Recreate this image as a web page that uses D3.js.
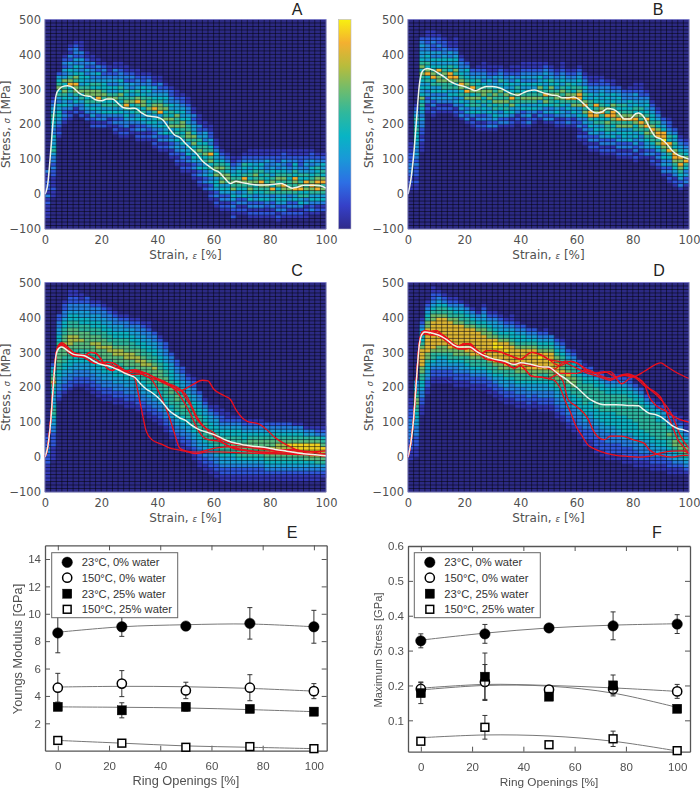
<!DOCTYPE html>
<html><head><meta charset="utf-8">
<script src="https://cdnjs.cloudflare.com/ajax/libs/d3/7.8.5/d3.min.js"></script>
<style>html,body{margin:0;padding:0;background:#fff}svg{display:block}</style>
</head><body><svg id="c" width="700" height="788"></svg>
<script>
const heatColors=["#2c2a84","#3338b4","#3058dc","#2580e0","#1a9ed8","#0cb4c4","#2cb8a0","#78bc68","#f2ae2e","#f8ee12"];
const heatColorsC=["#2c2a84","#3338b4","#3058dc","#2580e0","#1a9ed8","#0cb4c4","#2cb8a0","#58bc80","#a8bc48","#f0d020"];
const heatColorsD=["#2c2a84","#3338b4","#3058dc","#2580e0","#1a9ed8","#0cb4c4","#2cb8a0","#70bc6c","#dcb634","#f6e018"];
const barColors=["#2f2a8a","#3540c8","#2d6fe4","#1a98d8","#08b4c4","#30b89c","#70bc6c","#b8bc3c","#f4b030","#f8f010"];
// each column (2% wide): [first row, levels upward]; rows are 10 MPa tall, row 0 starts at -100
const panelA=[[3,"11112131222113"],[9,"11211122323346544533455644321"],[26,"1212345545346576542"],[30,"12323545676574342321"],[31,"1213435465876453423121"],[33,"213546778675453423321"],[32,"2133465764555343423111"],[31,"21345657765453423211"],[29,"212435465775643432311"],[29,"21324546877564352311"],[29,"2133546567655432321"],[29,"121354657645343211"],[27,"121323546576453432311"],[26,"1212323546567564533211"],[26,"121334546876564423211"],[27,"1213435657645342321"],[25,"121323546568756433211"],[25,"12132454657765453221"],[25,"12123545476564543321"],[23,"121323455468765434211"],[22,"1213243546487765432311"],[22,"12132545476576454321"],[20,"121324354767564533221"],[18,"1212343546576675443211"],[16,"12123243546567754543221"],[16,"1213254546776645433211"],[14,"121324546576754432311"],[12,"121325345676564323111"],[11,"21324354657665344211"],[8,"1213243546576865342211"],[6,"12132455476765453211"],[5,"121324547676765321"],[5,"12132454677565321"],[3,"212324547676543211"],[4,"12132435676554321"],[4,"121325456786456321"],[3,"12132546767565453211"],[3,"12132435657676543211"],[3,"12132545678656453211"],[3,"12123546676564334211"],[3,"12132436857645433211"],[2,"121324546576765342211"],[3,"12324546786765434221"],[3,"12132436766564323211"],[3,"12132546867856453211"],[3,"12135465876564322211"],[3,"11214365768564343211"],[4,"1323546787654534221"],[4,"121354687876564321"],[5,"21354676875645321"]];
const panelB=[[11,"11212333222111"],[11,"1121222323434455565464321"],[22,"111212233434565754545675765443432"],[33,"121324354658756454332211"],[32,"1213243546587654534223211"],[33,"12134354677685453423221"],[33,"1213435667676545433221"],[33,"121345466788564534211"],[32,"12134354657867545432111"],[31,"1324354657876543321"],[30,"132435476867654532"],[29,"12135466757865432"],[28,"1213254657676564321"],[28,"12132454657765343211"],[28,"1323354657676453211"],[28,"1324546576765434211"],[29,"132435676675464321"],[29,"13245657675454321"],[29,"121354768654534211"],[30,"12134566756453211"],[29,"1213254676545343211"],[29,"1324354676545343211"],[30,"121354676545343211"],[31,"13245476675453211"],[30,"132435768654534321"],[30,"13243566767564321"],[29,"12135465776454321"],[29,"1213435676764543211"],[29,"13243546876564321"],[29,"12135476875654321"],[25,"1211323544768876454321"],[24,"112132435768756453321"],[22,"1213243546885664533211"],[22,"1213245465876855433211"],[21,"12132435465687654543221"],[21,"1213245667586754543321"],[21,"1213254656788675453211"],[20,"121324354768765645432"],[20,"12132455476876564332"],[20,"121325454768765453321"],[19,"12132435465787565434211"],[20,"1213243567867564432211"],[20,"13244567687865454321"],[18,"1213245667876554321"],[17,"121324576887564321"],[15,"13243546789885432"],[13,"1213243568785643221"],[12,"12134567887564532"],[11,"1324567878654321"],[12,"13243568754321"]];
const panelC=[[3,"11111222332221"],[9,"1111222233445665444556876542"],[26,"1223344556677776655443322"],[28,"122334455667788776655433221"],[29,"12233445566778887766554332211"],[30,"1223344556677887766554332211"],[30,"122334455667787766554433211"],[29,"112233445566777776655443322"],[28,"112233445566778776655443321"],[27,"1122334455667788776655443321"],[26,"1122334455667778776655443321"],[26,"112233445566778876655443321"],[25,"112233445566778876655443321"],[25,"11223344556677887665544321"],[24,"112233445566778877665543321"],[24,"11223344556677887665544321"],[23,"112233445566778877655443321"],[22,"112233445566778876655443321"],[21,"1122334455667778766554433211"],[20,"11223344556677787665544332"],[19,"11223344556677776655443321"],[17,"11223344556667776655443322"],[15,"1122334455666776655544332"],[13,"1122334455666776655443322"],[12,"112233445566766655443322"],[11,"11223344556666655443321"],[9,"112233445566666554433221"],[7,"1122334455666665544332"],[6,"112233445666665544321"],[5,"11223345566665544321"],[4,"112233455666655443211"],[3,"112234456666655432211"],[3,"11223445666665543211"],[3,"1122344566766554321"],[3,"1122345667766554321"],[3,"112234566776554321"],[3,"112234567777654321"],[3,"112234567777654321"],[3,"112234567877654321"],[3,"11234567787765432"],[3,"11234567887765432"],[3,"11234567888765432"],[3,"11234567888765432"],[3,"11234567889765432"],[3,"11234567899765431"],[3,"11234567899765431"],[3,"1123457789976431"],[3,"1123457899976431"],[3,"1123467899976321"],[4,"123467889765321"]];
const panelD=[[9,"111222333333222111"],[10,"1112223334455667765443"],[22,"1112233455667788888765544321"],[28,"112234455677888888877654321"],[31,"1122345667888888887765432211"],[31,"112234456778888888876654321"],[31,"11223445677888888887665321"],[31,"1122345667888888887665321"],[30,"11223345677888888877654321"],[30,"1122344567788888887665431"],[30,"112234566788888887665431"],[29,"112234566788888888765431"],[29,"11223456678888888765431"],[29,"1122345667888888776544321"],[28,"112234566788888877654321"],[27,"1122345667888899876544321"],[26,"1122344567788889876544321"],[25,"1122344566788889887654321"],[25,"11223345667788888765543211"],[24,"1122334566778888876554321"],[24,"112233456678888887655432"],[23,"112233445667888888765432"],[24,"11223445677888888765432"],[23,"11223344566788898765432"],[23,"112233445667888887654321"],[23,"1122334556778898876543"],[21,"11223344566778887765432"],[20,"112233445566778776654321"],[18,"11223344455667787665432"],[17,"112233344556677766654321"],[15,"11223334455566666655432"],[13,"112223344555666666554321"],[13,"11222333445556666655432"],[11,"11222333445556666665543"],[10,"1122233344555666666554321"],[9,"112223334455556666655433"],[9,"1122233344555566666554322"],[9,"1122233445555666666554321"],[8,"11222334455555666666554321"],[8,"11222334455556666665543221"],[7,"112223344555566666655432"],[7,"11223344555666666655432"],[7,"112233445566666655432"],[6,"112233445566666655431"],[6,"11223445566666555421"],[6,"1122344556666654432"],[5,"1122344566676543321"],[5,"112344567766543221"],[5,"11234567766543211"],[5,"1234567765432111"]];

const strainA=[0,1,2,3,4,5,6,8,10,12,14,16,18,20,22,24,26,28,30,32,34,36,38,40,42,44,46,48,50,52,54,56,58,60,62,64,66,68,70,72,76,80,84,86,88,90,92,96,98,100];
const stressA=[0,30,120,220,285,300,307,310,305,290,282,280,270,267,272,272,260,247,245,246,235,225,222,220,212,190,170,162,145,130,115,95,82,70,62,45,30,37,33,30,26,27,30,24,17,20,25,25,24,17];
const strainB=[0,1,2,3,4,5,6,7,9,11,13,15,17,20,22,24,26,28,30,33,35,37,39,41,43,45,47,49,51,53,55,57,59,61,63,65,67,69,71,73,75,77,79,81,82,84,86,88,90,92,94,96,98,100];
const stressB=[0,40,110,210,310,350,358,360,355,345,335,323,315,308,302,296,303,308,308,303,295,287,283,290,296,298,293,288,284,282,276,276,278,270,255,240,232,235,245,243,232,215,215,230,232,220,190,165,158,145,125,112,106,100];
const strainC=[0,1,2,3,4,5,6,8,10,12,14,16,18,20,22,24,26,28,30,32,34,36,38,40,42,44,46,48,50,52,54,56,58,60,62,64,66,68,70,74,78,82,86,90,94,98,100];
const stressC=[0,30,100,210,295,312,315,305,295,292,290,282,272,265,262,257,250,242,235,228,210,195,185,172,155,135,122,112,105,92,82,75,70,65,58,50,44,40,36,31,28,22,17,12,8,5,4];
const strainD=[0,1,2,3,4,5,6,8,10,12,14,16,18,20,22,24,26,28,30,34,38,40,44,48,50,52,54,56,58,60,62,64,66,68,70,74,78,82,84,86,88,90,92,94,96,98,100];
const stressD=[0,40,110,220,320,352,358,356,352,345,335,322,315,315,315,305,295,288,282,275,265,270,265,258,258,248,235,225,212,200,185,170,160,153,150,150,148,147,135,125,122,115,103,90,82,78,73];

const trunkC1=[[0,0],[1,30],[2,105],[3,215],[4,300],[5,322],[6,327],[8,315],[10,300],[12,295],[14,292],[16,288],[18,280],[20,270],[22,265],[24,262],[26,252],[28,242],[30,236]];
const trunkC2=[[0,0],[1,28],[2,100],[3,210],[4,295],[5,318],[6,322],[8,308],[10,293],[12,290],[14,290],[16,300],[18,298],[20,280],[22,255],[24,248],[26,256],[28,245],[30,248],[32,250]];
const trunkC3=[[0,0],[1,30],[2,102],[3,212],[4,297],[5,318],[6,320],[8,303],[10,290],[14,285],[16,275],[18,268],[20,270],[22,272],[24,270],[28,250],[30,242],[32,245],[34,242],[36,240]];
const curvesC=[
 trunkC1.concat([[32,225],[33,190],[34,150],[35,110],[36,75],[38,50],[42,35],[44,27],[48,20],[52,12],[54,10],[58,15],[62,15],[70,12],[78,10],[88,8],[100,5]]),
 trunkC2.concat([[35,235],[38,222],[40,195],[42,160],[44,120],[46,70],[48,25],[50,18],[54,14],[60,25],[66,30],[72,28],[80,20],[90,10],[100,3]]),
 trunkC3.concat([[40,222],[44,205],[48,190],[52,205],[56,220],[58,218],[60,195],[64,175],[66,165],[68,135],[72,102],[76,95],[78,85],[82,55],[86,35],[90,20],[95,15],[100,8]]),
 trunkC1.concat([[34,238],[38,225],[42,218],[46,195],[48,175],[50,150],[52,120],[54,85],[56,60],[58,50],[62,45],[66,30],[70,22],[76,15],[84,12],[92,10],[100,5]]),
 trunkC2.concat([[36,240],[40,222],[44,210],[48,195],[50,170],[52,145],[54,110],[56,90],[60,70],[62,55],[66,40],[70,35],[78,25],[86,20],[94,15],[100,18]]),
 trunkC3.concat([[38,232],[42,218],[46,200],[50,180],[52,150],[54,115],[58,75],[62,50],[66,28],[72,18],[80,14],[88,22],[94,10],[100,2]])
];
const trunkD1=[[0,0],[1,40],[2,110],[3,225],[4,325],[5,358],[6,362],[8,360],[10,362],[12,352],[14,340],[16,325],[18,318],[20,322],[22,325],[24,310],[26,298],[28,290],[30,280],[34,272],[38,255],[40,262],[44,232],[48,228],[50,225]];
const trunkD2=[[0,0],[1,38],[2,108],[3,220],[4,318],[5,350],[6,354],[8,350],[10,350],[12,342],[14,330],[16,318],[18,310],[20,310],[22,312],[24,302],[26,295],[28,305],[30,305],[34,298],[38,285],[40,280],[44,300],[48,290],[50,280]];
const trunkD3=[[0,0],[1,40],[2,112],[3,222],[4,322],[5,355],[6,360],[8,358],[10,355],[12,350],[14,338],[16,322],[18,318],[20,325],[22,322],[24,308],[26,292],[28,280],[30,278],[34,270],[38,268],[40,268],[44,262],[48,258],[50,255]];
const curvesD=[
 trunkD1.concat([[52,220],[54,200],[56,160],[58,125],[60,85],[62,60],[64,35],[66,25],[70,12],[74,5],[78,2],[82,0],[86,3],[90,12],[94,17],[98,18],[100,10]]),
 trunkD3.concat([[55,220],[57,165],[60,145],[64,110],[66,75],[68,55],[70,50],[72,60],[76,60],[80,50],[84,40],[86,20],[90,5],[94,0],[98,5],[100,5]]),
 trunkD2.concat([[56,270],[60,255],[64,240],[68,230],[72,220],[76,235],[80,230],[84,245],[88,265],[90,270],[92,260],[96,240],[100,225]]),
 trunkD2.concat([[54,262],[58,275],[62,260],[66,240],[70,245],[74,230],[78,235],[82,225],[84,210],[86,170],[88,150],[92,130],[96,110],[100,100]]),
 trunkD3.concat([[52,252],[56,275],[60,270],[64,245],[68,240],[72,245],[76,210],[80,230],[84,205],[90,170],[92,130],[94,90],[96,50],[98,30],[100,10]]),
 trunkD1.concat([[54,240],[60,240],[64,250],[68,235],[72,225],[78,238],[82,225],[86,195],[90,165],[94,120],[97,60],[100,25]])
];
const ringOpenings=[0,25,50,75,100];
const seriesNames=["23°C, 0% water","150°C, 0% water","23°C, 25% water","150°C, 25% water"];
const modulusVals=[[8.6,9.05,9.1,9.3,9.05],[4.6,4.9,4.4,4.6,4.35],[3.2,2.95,3.2,3.05,2.85],[0.75,0.55,0.25,0.3,0.15]];
const modulusErrs=[[1.45,0.7,0.2,1.15,1.2],[1.05,0.95,0.6,0.95,0.55],[0.2,0.55,0.3,0.2,0.2],[0.05,0.05,0.05,0.05,0.05]];
const modulusFits=[[8.65,9.05,9.2,9.25,9.05],[4.65,4.7,4.67,4.55,4.35],[3.2,3.17,3.12,3.0,2.85],[0.75,0.55,0.35,0.25,0.15]];
const maxStressVals=[[0.328,0.348,0.365,0.371,0.376],[0.19,0.21,0.188,0.19,0.183],[0.178,0.225,0.168,0.2,0.133],[0.04,0.08,0.03,0.047,0.013]];
const maxStressErrs=[[0.02,0.027,0.003,0.04,0.027],[0.02,0.05,0.003,0.015,0.02],[0.03,0.068,0.005,0.03,0.01],[0.005,0.034,0.003,0.022,0.002]];
const maxStressFits=[[0.33,0.35,0.365,0.373,0.377],[0.192,0.203,0.2,0.193,0.183],[0.187,0.2,0.198,0.178,0.137],[0.05,0.058,0.055,0.04,0.012]];

const svg=d3.select("#c");
const txt="#505050";
const heatFont="'DejaVu Sans',sans-serif", plotFont="'Liberation Sans',Arial,sans-serif", titleFont="'Liberation Sans',Arial,sans-serif";
const xEdges=d3.range(0,101,2), yEdges=d3.range(-100,501,10);

function heat(o){
  const color=d3.scaleLinear().domain(d3.range(10)).range(o.palette);
  const x=d3.scaleLinear([0,100],[o.x0,o.x0+281]), y=d3.scaleLinear([-100,500],[o.y0+209.5,o.y0]);
  const g=svg.append("g");
  const m=g.append("g").style("filter","blur(0.45px)");
  m.append("rect").attr("x",x(0)).attr("y",y(500)).attr("width",x(100)-x(0)).attr("height",y(-100)-y(500)).attr("fill",o.palette[0]);
  o.cols.forEach((c,j)=>{
    c[1].split("").forEach((d,i)=>{
      const r=c[0]+i; if(r>59)return;
      m.append("rect").attr("x",x(j*2)).attr("y",y(-90+r*10)).attr("width",x(2)-x(0)+.2).attr("height",y(-100)-y(-90)+.2).attr("fill",color(+d));
    });
  });
  m.selectAll(".vl").data(xEdges).join("line").attr("x1",d=>x(d)).attr("x2",d=>x(d)).attr("y1",y(500)).attr("y2",y(-100)).attr("stroke","#000").attr("stroke-opacity",.62).attr("stroke-width",.8);
  m.selectAll(".hl").data(yEdges).join("line").attr("y1",d=>y(d)).attr("y2",d=>y(d)).attr("x1",x(0)).attr("x2",x(100)).attr("stroke","#000").attr("stroke-opacity",.62).attr("stroke-width",.8);
  const ln=d3.line().x(d=>x(d[0])).y(d=>y(d[1])).curve(d3.curveMonotoneX);
  (o.reds||[]).forEach(c=>m.append("path").attr("d",ln(c)).attr("fill","none").attr("stroke","#ec0f1c").attr("stroke-width",1.3));
  m.append("path").attr("d",ln(o.strain.map((s,i)=>[s,o.stress[i]]))).attr("fill","none").attr("stroke","#eef3e8").attr("stroke-width",1.5);
  g.append("rect").attr("x",x(0)).attr("y",y(500)).attr("width",x(100)-x(0)).attr("height",y(-100)-y(500)).attr("fill","none").attr("stroke","#8a8ae0").attr("stroke-width",.8);
  const ax=g.append("g").attr("transform",`translate(0,${y(-100)})`).call(d3.axisBottom(x).tickValues([0,20,40,60,80,100]).tickSize(0).tickPadding(7));
  const ay=g.append("g").attr("transform",`translate(${x(0)},0)`).call(d3.axisLeft(y).tickValues([-100,0,100,200,300,400,500]).tickSize(0).tickPadding(4));
  [ax,ay].forEach(a=>{a.select(".domain").remove();a.selectAll("text").attr("font-family",heatFont).attr("font-size",11.5).attr("fill",txt);});
  const xl=g.append("text").attr("x",x(50)).attr("y",y(-100)+30).attr("text-anchor","middle").attr("font-family",heatFont).attr("font-size",12).attr("fill",txt);
  xl.append("tspan").text("Strain, ");
  xl.append("tspan").text("ε").attr("font-style","italic").attr("font-size",8.5);
  xl.append("tspan").text(" [%]");
  const yl=g.append("text").attr("transform",`translate(${o.x0-35},${y(200)}) rotate(-90)`).attr("text-anchor","middle").attr("font-family",heatFont).attr("font-size",12).attr("fill",txt);
  yl.append("tspan").text("Stress, ");
  yl.append("tspan").text("σ").attr("font-style","italic").attr("font-size",8.5);
  yl.append("tspan").text(" [MPa]");
  svg.append("text").attr("x",o.tx).attr("y",o.ty).attr("text-anchor","middle").attr("font-family",titleFont).attr("font-size",16).attr("fill","#222").text(o.title);
}
heat({x0:45,y0:19.5,cols:panelA,palette:heatColors,strain:strainA,stress:stressA,title:"A",tx:297,ty:14.5});
heat({x0:408,y0:19.5,cols:panelB,palette:heatColors,strain:strainB,stress:stressB,title:"B",tx:658,ty:14.5});
heat({x0:45,y0:282.5,cols:panelC,palette:heatColorsC,strain:strainC,stress:stressC,reds:curvesC,title:"C",tx:297,ty:276});
heat({x0:408,y0:282.5,cols:panelD,palette:heatColorsD,strain:strainD,stress:stressD,reds:curvesD,title:"D",tx:659,ty:276});

// colour bar
const grad=svg.append("defs").append("linearGradient").attr("id","bar").attr("x1",0).attr("x2",0).attr("y1",1).attr("y2",0);
barColors.forEach((c,i)=>grad.append("stop").attr("offset",i/9).attr("stop-color",c));
svg.append("rect").attr("x",338.5).attr("y",19.5).attr("width",12.5).attr("height",209.5).attr("fill","url(#bar)").attr("stroke","#b8b8c8").attr("stroke-width",.6);

function scatter(o){
  const x=d3.scaleLinear([-5,105],[o.x0,o.x1]), y=d3.scaleLinear(o.dom,[o.y1,o.y0]);
  const g=svg.append("g").style("filter","blur(0.25px)");
  const tc="#555";
  const mk=(gen,tr)=>{const a=g.append("g").attr("transform",tr).call(gen);a.select(".domain").attr("stroke",tc).attr("stroke-width",1.3);a.selectAll("line").attr("stroke",tc);return a;};
  const xt=[0,20,40,60,80,100];
  const b=mk(d3.axisBottom(x).tickValues(xt).tickSize(-5).tickSizeOuter(0).tickPadding(11),`translate(0,${o.y1})`);
  mk(d3.axisTop(x).tickValues(xt).tickSize(-5).tickSizeOuter(0).tickFormat(""),`translate(0,${o.y0})`);
  const l=mk(d3.axisLeft(y).tickValues(o.ticks).tickFormat(o.fmt).tickSize(-5).tickSizeOuter(0).tickPadding(4),`translate(${o.x0},0)`);
  mk(d3.axisRight(y).tickValues(o.ticks).tickFormat("").tickSize(-5).tickSizeOuter(0),`translate(${o.x1},0)`);
  [b,l].forEach(a=>a.selectAll("text").attr("font-family",plotFont).attr("font-size",11.5).attr("fill",txt));
  g.append("text").attr("x",(o.x0+o.x1)/2).attr("y",o.y1+34).attr("text-anchor","middle").attr("font-family",plotFont).attr("font-size",o.xls).attr("fill",txt).text("Ring Openings [%]");
  g.append("text").attr("transform",`translate(${o.x0-o.ylo},${o.ylc}) rotate(-90)`).attr("text-anchor","middle").attr("font-family",plotFont).attr("font-size",o.yls).attr("fill",txt).text(o.ylabel);
  const ln=d3.line().x((d,i)=>x(ringOpenings[i])).y(d=>y(d)).curve(d3.curveCatmullRom);
  o.fits.forEach(f=>g.append("path").attr("d",ln(f)).attr("fill","none").attr("stroke","#777").attr("stroke-width",1));
  const marker=(sel,k,px,py)=>{
    const fill=k%2==0?"#000":"#fff";
    if(k<2) sel.append("circle").attr("cx",px).attr("cy",py).attr("r",k==0?5.2:4.6).attr("fill",fill).attr("stroke","#000").attr("stroke-width",k==0?.5:1.5);
    else sel.append("rect").attr("x",px-(k==2?4.6:3.9)).attr("y",py-(k==2?4.6:3.9)).attr("width",k==2?9.2:7.8).attr("height",k==2?9.2:7.8).attr("fill",fill).attr("stroke","#000").attr("stroke-width",k==2?.4:1.5);
  };
  o.vals.forEach((s,k)=>{
    s.forEach((v,i)=>{
      const px=x(ringOpenings[i]),e=o.errs[k][i];
      [[v-e,v+e]].forEach(([a,c])=>{
        g.append("line").attr("x1",px).attr("x2",px).attr("y1",y(a)).attr("y2",y(c)).attr("stroke","#333");
        [a,c].forEach(t=>g.append("line").attr("x1",px-2.5).attr("x2",px+2.5).attr("y1",y(t)).attr("y2",y(t)).attr("stroke","#333"));
      });
      marker(g,k,px,y(v));
    });
  });
  g.append("rect").attr("x",o.lx).attr("y",552.7).attr("width",126).attr("height",65).attr("fill","#fff").attr("stroke","#666").attr("stroke-width",1);
  [562.3,577.7,593.7,609.3].forEach((yy,k)=>{
    marker(g,k,o.lx+15.5,yy);
    g.append("text").attr("x",o.lx+30).attr("y",yy+4).attr("font-family",plotFont).attr("font-size",11.2).attr("fill","#333").text(seriesNames[k]);
  });
  svg.append("text").attr("x",o.tx).attr("y",538).attr("text-anchor","middle").attr("font-family",titleFont).attr("font-size",16).attr("fill","#222").text(o.title);
}
scatter({x0:45,x1:326.7,y0:545.3,y1:750.7,dom:[0,15],ticks:[2,4,6,8,10,12,14],fmt:d3.format("d"),vals:modulusVals,errs:modulusErrs,fits:modulusFits,ylabel:"Youngs Modulus [GPa]",xls:12.8,yls:12.8,ylc:649,ylo:23.5,lx:51.7,title:"E",tx:292});
scatter({x0:408,x1:690,y0:546,y1:751.7,dom:[0.01,0.6],ticks:[0.1,0.2,0.3,0.4,0.5,0.6],fmt:d3.format(".1f"),vals:maxStressVals,errs:maxStressErrs,fits:maxStressFits,ylabel:"Maximum Stress [GPa]",xls:11.8,yls:11.2,ylc:650,ylo:26,lx:414.3,title:"F",tx:657});
</script></body></html>
